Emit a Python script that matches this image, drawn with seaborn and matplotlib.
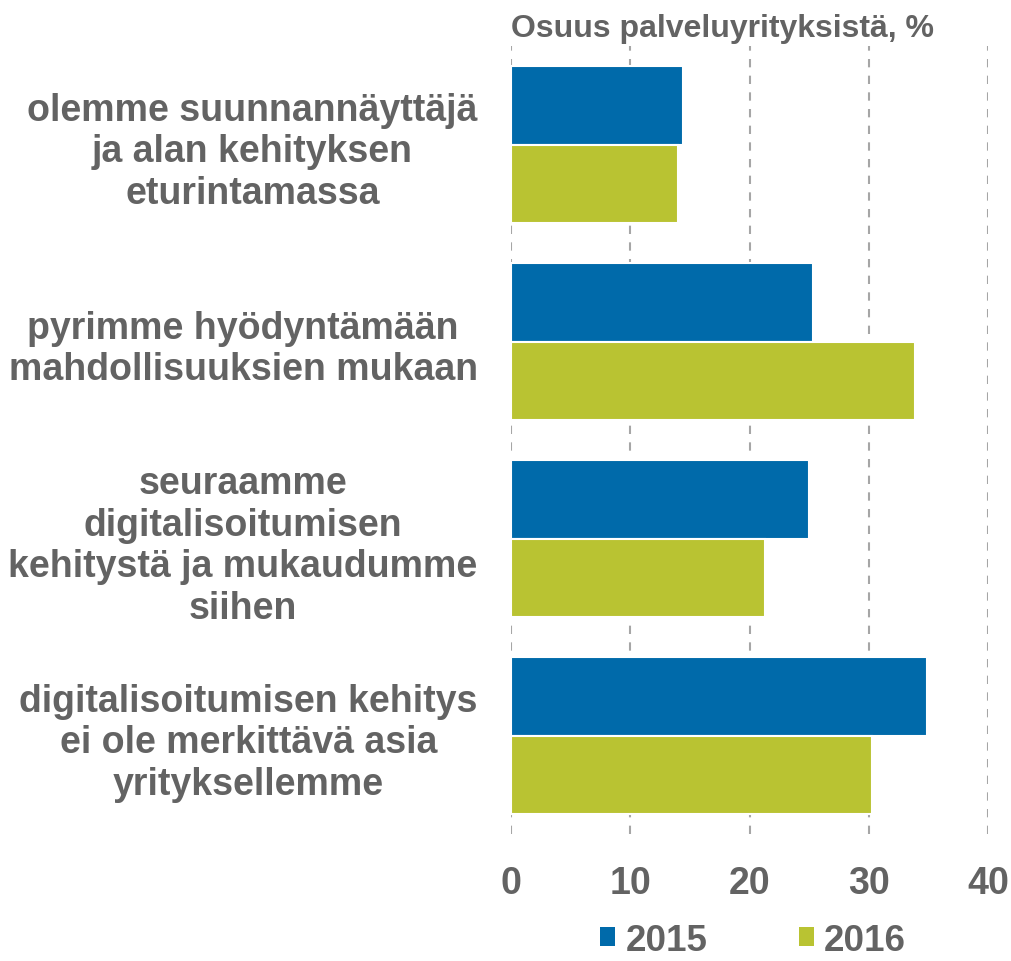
import matplotlib
matplotlib.use("Agg")
import matplotlib.pyplot as plt
import seaborn as sns
import pandas as pd
from matplotlib.patches import Patch

categories = [
    "olemme suunnannäyttäjä\nja alan kehityksen\neturintamassa",
    "pyrimme hyödyntämään\nmahdollisuuksien mukaan",
    "seuraamme\ndigitalisoitumisen\nkehitystä ja mukaudumme\nsiihen",
    "digitalisoitumisen kehitys\nei ole merkittävä asia\nyrityksellemme",
]
years = ["2015", "2016"]
values_2015 = [14.4, 25.3, 25.0, 34.9]
values_2016 = [14.0, 33.9, 21.3, 30.3]
xticks = [0, 10, 20, 30, 40]
title = "Osuus palveluyrityksistä, %"

colors = {"2015": "#006AAA", "2016": "#B9C332"}
text_color = "#636363"

df = pd.DataFrame({
    "category": categories * 2,
    "year": [years[0]] * len(categories) + [years[1]] * len(categories),
    "value": values_2015 + values_2016,
})

sns.set_theme(style="white")
plt.rcParams["font.family"] = ["Liberation Sans", "DejaVu Sans"]

fig = plt.figure(figsize=(10.11, 9.62), dpi=100)
ax = fig.add_axes([0.5054, 0.132, 0.9773 - 0.5054, 0.9511 - 0.132])

sns.barplot(data=df, y="category", x="value", hue="year", order=categories,
            hue_order=years, palette=colors, orient="h", width=0.8,
            saturation=1, edgecolor="white", linewidth=1.5, ax=ax,
            legend=False, zorder=3)

ax.set_xlim(0, 40)
ax.set_ylim(3.5, -0.5)
ax.set_xticks(xticks)
ax.set_xticklabels([str(t) for t in xticks], fontsize=27, fontweight="bold", color=text_color)
ax.tick_params(axis="x", length=0, pad=22)
ax.tick_params(axis="y", length=0, pad=24)
for lab in ax.get_yticklabels():
    lab.set_fontsize(27)
    lab.set_fontweight("bold")
    lab.set_color(text_color)
    lab.set_multialignment("center")
    lab.set_linespacing(1.2)
ax.set_xlabel("")
ax.set_ylabel("")
for s in ax.spines.values():
    s.set_visible(False)
ax.grid(False)
for t in xticks:
    ax.axvline(t, color="#A6A6A6", linestyle=(0, (4, 4)), linewidth=1.5, zorder=1)

fig.text(0.5054, 0.985, title, ha="left", va="top", fontsize=23,
         fontweight="bold", color=text_color)

handles = [Patch(facecolor=colors[y], edgecolor="none") for y in years]
leg = fig.legend(handles, years, loc="center", bbox_to_anchor=(0.745, 0.0215),
                 ncol=2, frameon=False, handlelength=0.41, handleheight=0.41,
                 handletextpad=0.27, columnspacing=2.5, borderpad=0,
                 prop={"size": 26.5, "weight": "bold"})
for t in leg.get_texts():
    t.set_color(text_color)

fig.savefig("out.png", dpi=100)
